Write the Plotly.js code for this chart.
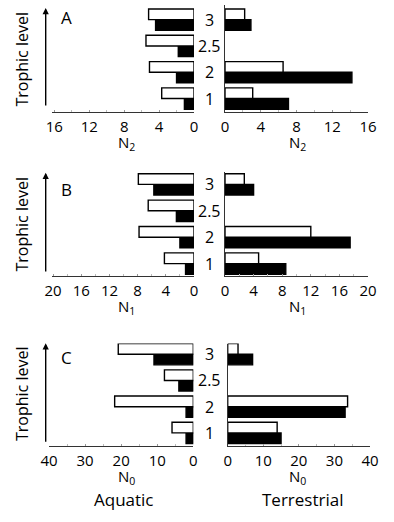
<!DOCTYPE html>
<html>
<head>
<meta charset="utf-8">
<script src="https://cdn.plot.ly/plotly-3.0.1.min.js"></script>
<style>html,body{margin:0;padding:0;background:#fff;}#chart{width:394px;height:522px;}</style>
</head>
<body>
<div id="chart"></div>
<script>
// Trophic level categories
var levels = ['1', '2', '2.5', '3'];

// Panel A (N2) — null where no bar is drawn
var aquaticN2_open = [3.7, 5.1, 5.5, 5.2];
var aquaticN2_filled = [1.1, 2.0, 1.8, 4.4];
var terrN2_open = [3.1, 6.5, null, 2.2];
var terrN2_filled = [7.1, 14.2, null, 2.9];

// Panel B (N1)
var aquaticN1_open = [4.2, 7.8, 6.5, 7.9];
var aquaticN1_filled = [1.2, 2.0, 2.5, 5.7];
var terrN1_open = [4.7, 12.0, null, 2.7];
var terrN1_filled = [8.5, 17.5, null, 4.0];

// Panel C (N0)
var aquaticN0_open = [5.9, 21.8, 8.0, 20.8];
var aquaticN0_filled = [2.0, 2.0, 4.0, 10.9];
var terrN0_open = [13.9, 33.7, null, 2.9];
var terrN0_filled = [15.0, 33.0, null, 7.0];

var panelLetters = ['A', 'B', 'C'];
var xLabels = ['N<sub>2</sub>', 'N<sub>1</sub>', 'N<sub>0</sub>'];
var leftRanges = [[16.3, 0], [20.2, 0], [40, 0]];
var rightRanges = [[0, 16], [0, 20], [0, 40]];
var tickSteps = [4, 4, 10];
var habitatLabels = ['Aquatic', 'Terrestrial'];

var W = 394, H = 522;
var FONT = 'Open Sans, Noto Sans, sans-serif';
var INK = '#000';
function px(x) { return x / W; }
function py(y) { return 1 - y / H; }

var panelY = [[5.2, 111.7], [171.7, 276.3], [343.5, 446]];
var leftX = [[51.7, 194], [51.7, 194], [49, 193.3]];
var rightX = [[225, 368], [225, 368], [227.7, 370]];
var yRanges = [[-0.5, 3.55], [-0.48, 3.48], [-0.5, 3.41]];

var data = [];
var panels = [
  [aquaticN2_open, aquaticN2_filled, terrN2_open, terrN2_filled],
  [aquaticN1_open, aquaticN1_filled, terrN1_open, terrN1_filled],
  [aquaticN0_open, aquaticN0_filled, terrN0_open, terrN0_filled]
];

var layout = {
  width: W, height: H,
  margin: {l: 0, r: 0, t: 0, b: 0},
  paper_bgcolor: '#fff', plot_bgcolor: 'rgba(0,0,0,0)',
  showlegend: false,
  barmode: 'group', bargap: 0.19, bargroupgap: 0,
  font: {family: FONT, color: INK},
  annotations: []
};

function bar(vals, xa, ya, filled) {
  return {
    type: 'bar', orientation: 'h', y: levels, x: vals,
    xaxis: xa, yaxis: ya, hoverinfo: 'none',
    marker: {color: filled ? '#000' : '#fff', line: {color: '#000', width: 1.4}}
  };
}

for (var p = 0; p < 3; p++) {
  var li = 2 * p + 1, ri = 2 * p + 2;
  var lx = 'x' + li, ly = 'y' + li, rx = 'x' + ri, ry = 'y' + ri;
  var sets = panels[p];
  data.push(bar(sets[1], lx, ly, true));
  data.push(bar(sets[0], lx, ly, false));
  data.push(bar(sets[3], rx, ry, true));
  data.push(bar(sets[2], rx, ry, false));

  var yd = [py(panelY[p][1]), py(panelY[p][0])];
  var xcommon = {
    showgrid: false, zeroline: false, showline: true, linecolor: '#333', linewidth: 1,
    ticks: 'inside', ticklen: 2, tickcolor: '#999', tickwidth: 1,
    tickfont: {family: FONT, size: 15, color: INK},
    fixedrange: true, ticklabelstandoff: 1, tick0: 0, dtick: tickSteps[p],
    minor: {ticks: 'inside', ticklen: 2, tickcolor: '#bbb', dtick: tickSteps[p] / 2}
  };
  layout['xaxis' + li] = Object.assign({}, xcommon, {
    domain: [px(leftX[p][0]), px(leftX[p][1])], range: leftRanges[p], anchor: ly
  });
  layout['xaxis' + ri] = Object.assign({}, xcommon, {
    domain: [px(rightX[p][0]), px(rightX[p][1])], range: rightRanges[p], anchor: ry
  });
  var ycommon = {
    type: 'category', categoryorder: 'array', categoryarray: levels,
    domain: yd, range: yRanges[p], showgrid: false, zeroline: false,
    showticklabels: false, ticks: '', fixedrange: true
  };
  layout['yaxis' + li] = Object.assign({}, ycommon, {anchor: lx, showline: false});
  layout['yaxis' + ri] = Object.assign({}, ycommon, {anchor: rx, showline: true, linecolor: '#333', linewidth: 1});

  // category labels between the two panels (category index as position)
  for (var k = 0; k < levels.length; k++) {
    layout.annotations.push({
      xref: 'paper', yref: ry, x: px(209.5), y: k, text: levels[k],
      showarrow: false, xanchor: 'center', yanchor: 'middle',
      font: {family: FONT, size: 16, color: INK}
    });
  }
  var letterY = [18, 190, 357][p];
  layout.annotations.push({
    xref: 'paper', yref: 'paper', x: px(66), y: py(letterY), text: panelLetters[p],
    showarrow: false, xanchor: 'center', yanchor: 'middle',
    font: {family: FONT, size: 17, color: INK}
  });
  var tlY = [59.5, 224.5, 394][p];
  layout.annotations.push({
    xref: 'paper', yref: 'paper', x: px(22), y: py(tlY), text: 'Trophic level',
    showarrow: false, textangle: -90, xanchor: 'center', yanchor: 'middle',
    font: {family: FONT, size: 16, color: INK}
  });
  var arrTop = [8, 172.7, 343.3][p], arrBot = [107, 273, 443.3][p];
  layout.annotations.push({
    xref: 'paper', yref: 'paper', x: px(45.7), y: py(arrTop), text: '',
    showarrow: true, ax: 0, ay: arrBot - arrTop, arrowhead: 2, arrowsize: 0.9,
    arrowwidth: 1.4, arrowcolor: INK
  });
  var nY = panelY[p][1] + 31;
  layout.annotations.push({
    xref: 'paper', yref: 'paper', x: px(126), y: py(nY), text: xLabels[p],
    showarrow: false, xanchor: 'center', yanchor: 'middle',
    font: {family: FONT, size: 15, color: INK}
  });
  layout.annotations.push({
    xref: 'paper', yref: 'paper', x: px(297), y: py(nY), text: xLabels[p],
    showarrow: false, xanchor: 'center', yanchor: 'middle',
    font: {family: FONT, size: 15, color: INK}
  });
}

layout.annotations.push({
  xref: 'paper', yref: 'paper', x: px(124), y: py(499), text: habitatLabels[0],
  showarrow: false, xanchor: 'center', yanchor: 'middle',
  font: {family: FONT, size: 17, color: INK}
});
layout.annotations.push({
  xref: 'paper', yref: 'paper', x: px(303), y: py(499), text: habitatLabels[1],
  showarrow: false, xanchor: 'center', yanchor: 'middle',
  font: {family: FONT, size: 17, color: INK}
});

Plotly.newPlot('chart', data, layout, {staticPlot: true, displayModeBar: false});
</script>
</body>
</html>
